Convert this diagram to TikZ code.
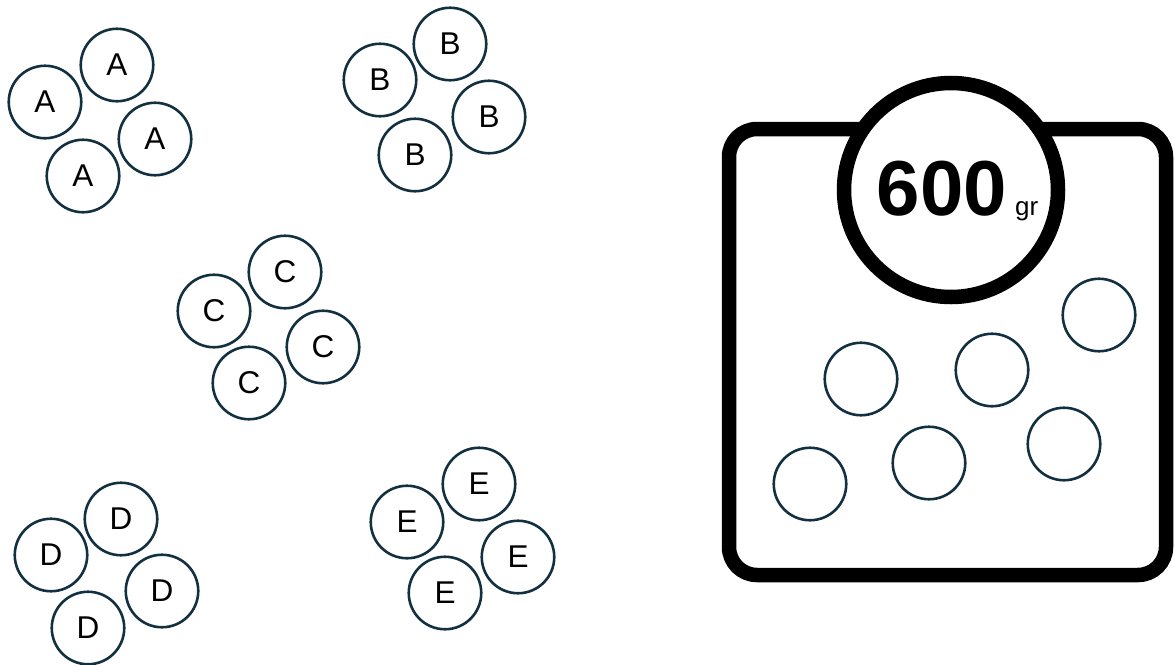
\documentclass[tikz,border=0pt]{standalone}
\usepackage{fontspec}
\setmainfont{Liberation Sans}
\definecolor{ink}{HTML}{12303F}
\tikzset{
  ball/.style={circle, draw=ink, line width=2.6pt, minimum size=72.5pt, inner sep=0pt,
    font=\fontsize{31.5}{31.5}\selectfont, text=black},
  dial/.style={circle, draw=black, fill=white, line width=14.5pt, minimum size=214pt, inner sep=0pt},
  frame/.style={draw=black, line width=14.5pt, rounded corners=28pt}
}
\begin{document}
\begin{tikzpicture}[x=1pt,y=-1pt]
\useasboundingbox (0,0) rectangle (1175,664);
% group A
\node[ball] (a1) at (117,65) {A};
\node[ball] (a2) at (45,102) {A};
\node[ball] (a3) at (155,139) {A};
\node[ball] (a4) at (83,176) {A};
% group B
\node[ball] (b1) at (450,44) {B};
\node[ball] (b2) at (380,80) {B};
\node[ball] (b3) at (489,117) {B};
\node[ball] (b4) at (415,155) {B};
% group C
\node[ball] (c1) at (285,272) {C};
\node[ball] (c2) at (214,311) {C};
\node[ball] (c3) at (323,347) {C};
\node[ball] (c4) at (249,383) {C};
% group D
\node[ball] (d1) at (121,519) {D};
\node[ball] (d2) at (51,555) {D};
\node[ball] (d3) at (162,591) {D};
\node[ball] (d4) at (88,628) {D};
% group E
\node[ball] (e1) at (479,484) {E};
\node[ball] (e2) at (407,522) {E};
\node[ball] (e3) at (518,557) {E};
\node[ball] (e4) at (445,593) {E};
% scale
\draw[frame] (729,129) rectangle (1166,575);
\node[dial] (dial) at (951,190) {};
\node[anchor=base, font=\fontsize{78}{78}\selectfont\bfseries] (w) at (942,215) {600};
\node[anchor=base west, inner sep=0pt, font=\fontsize{26}{26}\selectfont] (u) at (1015,215) {gr};
% items on scale
\node[ball] (s1) at (810,484) {};
\node[ball] (s2) at (861,379) {};
\node[ball] (s3) at (929,463) {};
\node[ball] (s4) at (992,370) {};
\node[ball] (s5) at (1064,444) {};
\node[ball] (s6) at (1099,315) {};
\end{tikzpicture}
\end{document}
